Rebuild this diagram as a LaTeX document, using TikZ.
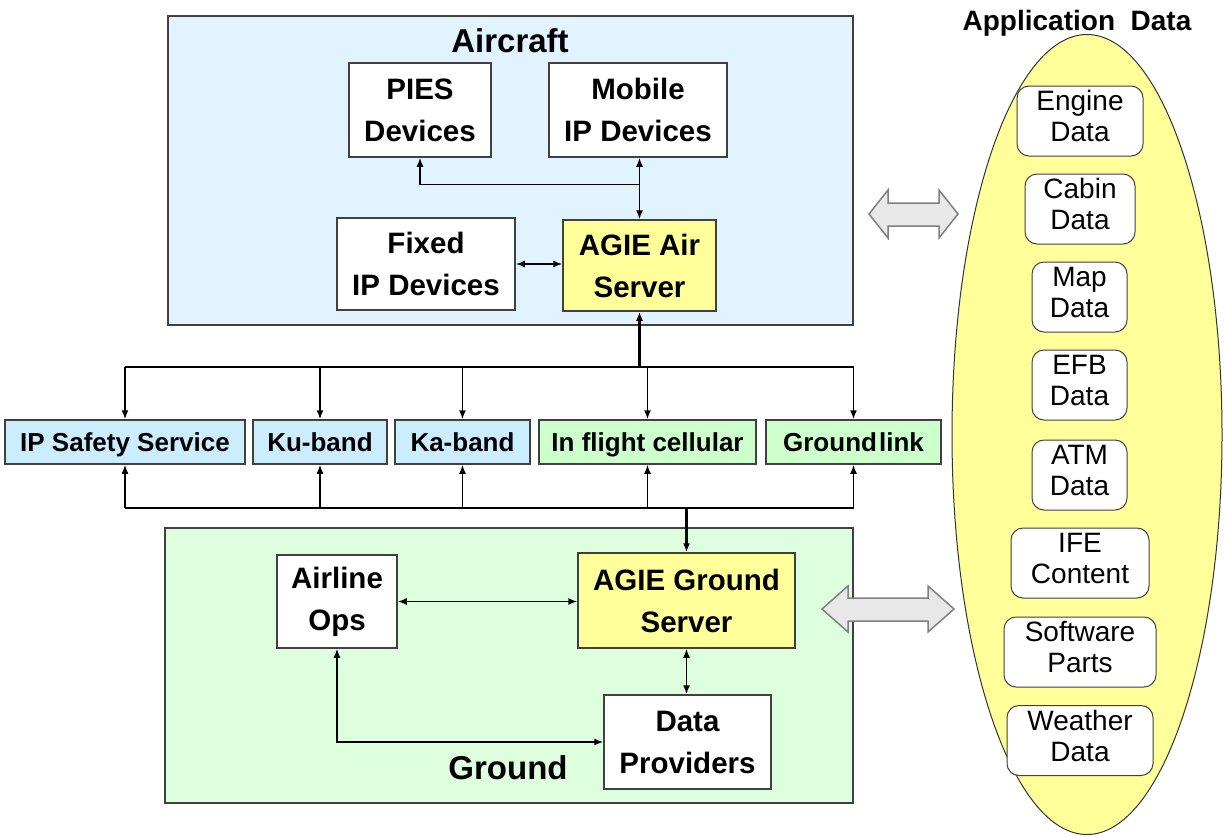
\documentclass[tikz,border=0pt]{standalone}
\usepackage{fontspec}
\setmainfont{Liberation Sans}
\usetikzlibrary{arrows.meta,shapes.geometric,calc}

\definecolor{airfill}{HTML}{E0F3FE}
\definecolor{gndfill}{HTML}{DDFFDD}
\definecolor{linkblue}{HTML}{CCECFF}
\definecolor{linkgreen}{HTML}{CCFFCC}
\definecolor{srvyellow}{HTML}{FFFF99}
\definecolor{edgegrey}{HTML}{404040}
\definecolor{blockfill}{HTML}{E8E8E8}
\definecolor{blockedge}{HTML}{808080}

\begin{document}
\begin{tikzpicture}[x=1pt,y=-1pt,
  region/.style={draw=edgegrey, line width=1.5pt, inner sep=0pt},
  unit/.style={draw=edgegrey, line width=1.5pt, fill=white, align=center, inner sep=0pt,
    font=\fontsize{29.5}{42}\selectfont\bfseries},
  link/.style={draw=edgegrey, line width=1.5pt, inner sep=0pt, text height=18.6pt, text depth=0pt,
    minimum height=44pt, font=\fontsize{26}{30}\selectfont\bfseries},
  datum/.style={draw=black!75, line width=1pt, fill=white, rounded corners=12pt, align=center,
    inner sep=0pt, minimum height=70pt, text depth=10pt, font=\fontsize{28}{31}\selectfont},
  title/.style={anchor=base, inner sep=0pt, font=\fontsize{33}{40}\selectfont\bfseries},
  wire/.style={line width=1.5pt},
  trunk/.style={line width=2.6pt},
  tip/.style={-{Latex[length=9pt,width=7pt]}},
  backtip/.style={{Latex[length=9pt,width=7pt]}-},
  bitip/.style={{Latex[length=9pt,width=7pt]}-{Latex[length=9pt,width=7pt]}},
  block/.style={draw=blockedge, line width=1.5pt, fill=blockfill, line join=miter}
]
\useasboundingbox (0,0) rectangle (1225,836);

% ---------- aircraft segment ----------
\node[region, fill=airfill, minimum width=685pt, minimum height=309pt] (aircraft) at (510.5,170.5) {};
\node[title] (actitle) at (510,52) {Aircraft};
\node[unit, minimum width=142pt, minimum height=94pt] (pies) at (420,110) {PIES\\Devices};
\node[unit, minimum width=178pt, minimum height=94pt] (mobile) at (638,110) {Mobile\\IP Devices};
\node[unit, minimum width=178pt, minimum height=92pt] (fixed) at (426,264) {Fixed\\IP Devices};
\node[unit, fill=srvyellow, minimum width=153pt, minimum height=91pt] (airsrv) at (639.5,265.5) {AGIE Air\\Server};

\draw[wire, bitip] (airsrv.north) -- (airsrv.north |- mobile.south);
\coordinate (fork) at ($(airsrv.north)+(0,-35)$);
\draw[wire, tip] (fork) -| (pies.south);
\draw[wire, bitip] (fixed.east) -- (fixed.east -| airsrv.west);

% ---------- air-ground links ----------
\node[link, fill=linkblue, minimum width=240pt] (ipsafe) at (125,442) {IP Safety Service};
\node[link, fill=linkblue, minimum width=134pt] (ku) at (320,442) {Ku-band};
\node[link, fill=linkblue, minimum width=135pt] (ka) at (462.5,442) {Ka-band};
\node[link, fill=linkgreen, minimum width=217pt] (cell) at (647.5,442) {In flight cellular};
\node[link, fill=linkgreen, minimum width=175pt] (gl) at (853.5,442) {Ground\hspace{0.08em}link};

% upper distribution bus
\coordinate (upbus) at (airsrv.south |- 0,367);
\draw[wire] (ipsafe.north |- upbus) -- (gl.north |- upbus);
\draw[trunk] (ku.north |- upbus) -- (upbus);
\draw[trunk, backtip] (airsrv.south) -- (upbus);
\foreach \n in {ipsafe,ku,ka,cell,gl}
  \draw[wire, tip] (\n.north |- upbus) -- (\n.north);

% ---------- ground segment ----------
\node[region, fill=gndfill, minimum width=688pt, minimum height=275pt] (ground) at (509,665.5) {};
\node[title] (gtitle) at (508,779) {Ground};
\node[unit, minimum width=120pt, minimum height=93pt] (ops) at (337,601.5) {Airline\\Ops};
\node[unit, fill=srvyellow, minimum width=217pt, minimum height=95pt] (gsrv) at (686.5,600.5) {AGIE Ground\\Server};
\node[unit, minimum width=167pt, minimum height=94pt] (dprov) at (687.5,742) {Data\\Providers};

% lower collection bus
\coordinate (dnbus) at (gsrv.north |- 0,508);
\draw[wire] (ipsafe.south |- dnbus) -- (gl.south |- dnbus);
\draw[trunk] (ku.south |- dnbus) -- (dnbus);
\draw[trunk, tip] (dnbus) -- (gsrv.north);
\foreach \n in {ipsafe,ku,ka,cell,gl}
  \draw[wire, tip] (\n.south |- dnbus) -- (\n.south);

\draw[wire, bitip] (ops.east) -- (ops.east -| gsrv.west);
\draw[wire, bitip] (gsrv.south) -- (gsrv.south |- dprov.north);
\draw[wire, bitip] (ops.south) |- (dprov.west);

% ---------- application data ----------
\node[title, font=\fontsize{28}{32}\selectfont\bfseries] (adtitle) at (1077,30) {Application\ \ Data};
\node[draw=black!80, line width=1pt, fill=srvyellow, ellipse, inner sep=0pt,
      minimum width=270pt, minimum height=800pt] (appdata) at (1087,434.5) {};
\node[datum, minimum width=126pt] (engine)  at (1080,121)   {Engine\\Data};
\node[datum, minimum width=110pt] (cabin)   at (1080,209)   {Cabin\\Data};
\node[datum, minimum width=95pt]  (map)     at (1079.5,297) {Map\\Data};
\node[datum, minimum width=95pt]  (efb)     at (1079.5,385) {EFB\\Data};
\node[datum, minimum width=95pt]  (atm)     at (1079.5,475) {ATM\\Data};
\node[datum, minimum width=138pt] (ife)     at (1080,563)   {IFE\\Content};
\node[datum, minimum width=152pt] (soft)    at (1080,652)   {Software\\Parts};
\node[datum, minimum width=146pt] (weather) at (1080,740.5) {Weather\\Data};

% exchange arrows between the segments and the data set
\draw[block] (869,214) -- (888,190) -- (888,203) -- (939,203) -- (939,190) -- (958,214)
  -- (939,238) -- (939,226) -- (888,226) -- (888,238) -- cycle;
\draw[block] (822,609) -- (848,586) -- (848,598) -- (928,598) -- (928,586) -- (954,609)
  -- (928,632) -- (928,621) -- (848,621) -- (848,632) -- cycle;
\end{tikzpicture}
\end{document}
